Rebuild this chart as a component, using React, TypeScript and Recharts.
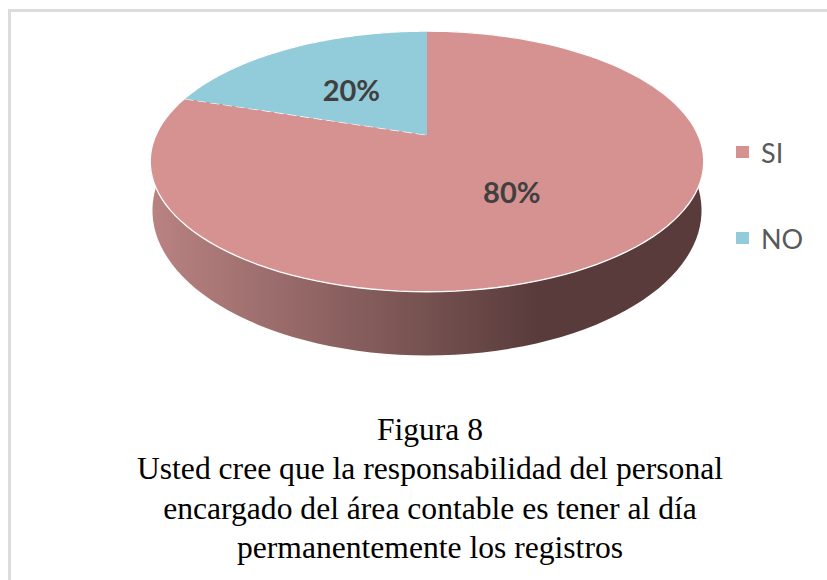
import { PieChart, Pie, Legend } from 'recharts'

const categories = ['SI', 'NO']
const values = [80, 20]
const sliceColors = ['#d59291', '#92cbda']
const captionLines = [
  'Figura 8',
  'Usted cree que la responsabilidad del personal',
  'encargado del área contable es tener al día',
  'permanentemente los registros',
]

const pieData = categories.map((name, i) => ({ name, value: values[i], fill: sliceColors[i] }))

const RAD = Math.PI / 180
// perspective of the tilted disc, far edge is smaller
const TILT = 0.203
const TOP_Y_SCALE = 0.461
const WALL_X_SCALE = 0.992
const WALL_Y_SCALE = 0.513
const WALL_DROP = 46

function project(cx: number, cy: number, r: number, angle: number, xs = 1, ys = TOP_Y_SCALE, drop = 0) {
  const u = Math.cos(angle * RAD)
  const v = Math.sin(angle * RAD)
  const w = 1 + (TILT * v * r) / 271
  return [cx + (xs * r * u) / w, cy + drop - (ys * r * v) / w]
}

function arcPoints(props: any, xs?: number, ys?: number, drop?: number) {
  const { cx, cy, outerRadius, startAngle, endAngle } = props
  const steps = 120
  const pts = []
  for (let i = 0; i <= steps; i++) {
    const a = startAngle + ((endAngle - startAngle) * i) / steps
    pts.push(project(cx, cy, outerRadius, a, xs, ys, drop))
  }
  return pts
}

function toPath(pts: number[][]) {
  return pts.map((p, i) => `${i ? 'L' : 'M'}${p[0].toFixed(2)},${p[1].toFixed(2)}`).join(' ')
}

function TopFace(props: any) {
  const rim = arcPoints(props)
  const last = rim[rim.length - 1]
  return (
    <g>
      <path d={`M${props.cx},${props.cy} ${toPath(rim).replace('M', 'L')} Z`} fill={props.fill} />
      <path d={toPath(rim)} fill="none" stroke="#fff" strokeWidth={1.3} />
      {/* only the slanted edge between the slices shows a broken white line */}
      {props.name === categories[0] && (
        <line
          x1={last[0]}
          y1={last[1]}
          x2={props.cx}
          y2={props.cy}
          stroke="#fff"
          strokeWidth={1.3}
          strokeDasharray="9 4"
        />
      )}
    </g>
  )
}

function WallFace(props: any) {
  const top = arcPoints(props)
  const bottom = arcPoints(props, WALL_X_SCALE, WALL_Y_SCALE, WALL_DROP).reverse()
  return <path d={`${toPath(top)} ${toPath(bottom).replace('M', 'L')} Z`} fill="url(#wallShade)" />
}

function renderLabel(props: any) {
  const { cx, cy, outerRadius, midAngle, percent } = props
  const [x, y] = project(cx, cy, outerRadius * 0.5, midAngle)
  return (
    <text
      x={x - 2}
      y={y + 1}
      textAnchor="middle"
      dominantBaseline="central"
      fontFamily="Lato"
      fontWeight={700}
      fontSize={29}
      fill="#404040"
    >
      {`${Math.round(percent * 100)}%`}
    </text>
  )
}

function renderLegend() {
  return (
    <div>
      {pieData.map((item) => (
        <div key={item.name} style={{ display: 'flex', alignItems: 'center', height: 86 }}>
          <span style={{ width: 13, height: 12, background: item.fill, marginRight: 12 }} />
          <span style={{ fontFamily: 'Lato', fontSize: 27, color: '#595959' }}>{item.name}</span>
        </div>
      ))}
    </div>
  )
}

export default function App() {
  return (
    <div style={{ position: 'absolute', left: 0, top: 0, width: 827, height: 580, background: '#fff', overflow: 'hidden' }}>
      <div
        style={{
          position: 'absolute',
          left: 8,
          top: 9,
          width: 830,
          height: 580,
          borderLeft: '3px solid #dcdcdc',
          borderTop: '3px solid #dcdcdc',
          boxSizing: 'border-box',
        }}
      />
      <PieChart
        width={827}
        height={400}
        margin={{ top: 0, right: 0, bottom: 0, left: 0 }}
        style={{ position: 'absolute', left: 0, top: 0 }}
      >
        <defs>
          <linearGradient id="wallShade" gradientUnits="userSpaceOnUse" x1={150} y1={0} x2={704} y2={0}>
            <stop offset="0" stopColor="#b98382" />
            <stop offset="0.5" stopColor="#755150" />
            <stop offset="0.7" stopColor="#593b3b" />
            <stop offset="1" stopColor="#593b3b" />
          </linearGradient>
        </defs>
        <Pie
          data={pieData}
          dataKey="value"
          nameKey="name"
          cx={427}
          cy={135}
          outerRadius={271}
          startAngle={90}
          endAngle={-270}
          legendType="none"
          shape={WallFace}
          isAnimationActive={false}
        />
        <Pie
          data={pieData}
          dataKey="value"
          nameKey="name"
          cx={427}
          cy={135}
          outerRadius={271}
          startAngle={90}
          endAngle={-270}
          shape={TopFace}
          label={renderLabel}
          labelLine={false}
          isAnimationActive={false}
        />
        <Legend
          layout="vertical"
          content={renderLegend}
          wrapperStyle={{ position: 'absolute', left: 736, top: 109, width: 90, bottom: 'auto' }}
        />
      </PieChart>
      <div
        style={{
          position: 'absolute',
          left: 0,
          width: 860,
          top: 410,
          textAlign: 'center',
          fontFamily: 'Liberation Serif',
          fontSize: 31.6,
          lineHeight: '39.3px',
          color: '#000',
        }}
      >
        {captionLines.map((line) => (
          <div key={line}>{line}</div>
        ))}
      </div>
    </div>
  )
}
